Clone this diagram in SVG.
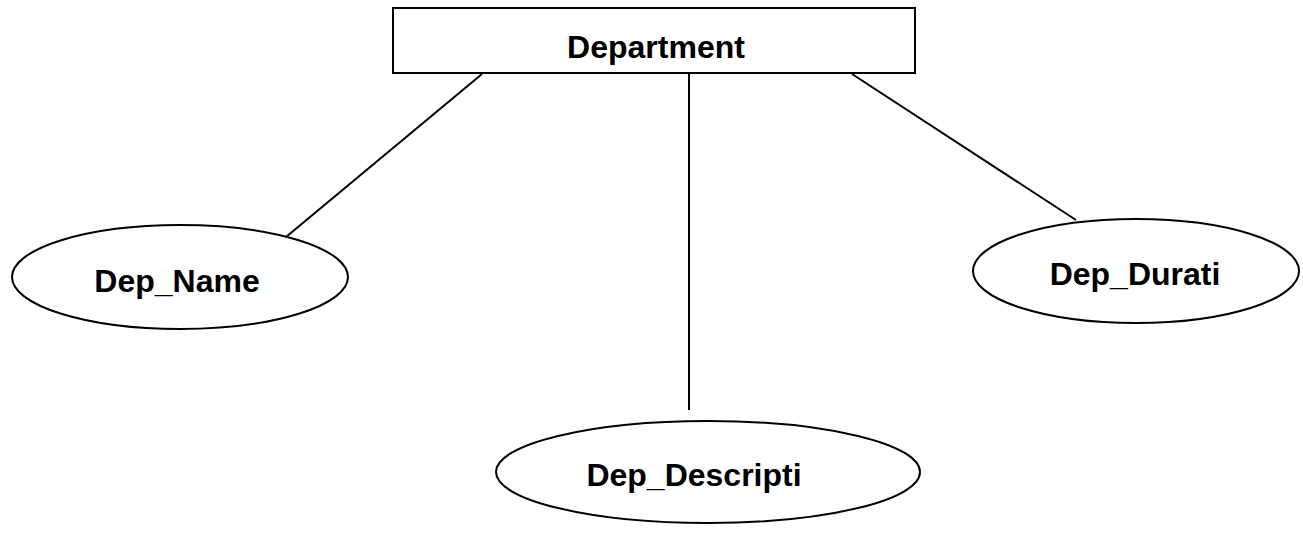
<svg xmlns="http://www.w3.org/2000/svg" width="1303" height="540" viewBox="0 0 1303 540">
<style>
.shape{fill:#fff;stroke:#000;stroke-width:2}
.lbl{font-family:"Liberation Sans",Arial,sans-serif;font-weight:bold;font-size:32px;fill:#000;text-anchor:middle}
.conn{stroke:#000;stroke-width:2;fill:none}
</style>
<rect width="1303" height="540" fill="#fff"/>
<g id="connectors">
<line class="conn" x1="482" y1="74" x2="286" y2="237"/>
<line class="conn" x1="689" y1="74" x2="689" y2="410"/>
<line class="conn" x1="852" y1="74" x2="1076" y2="220"/>
</g>
<g id="department">
<rect class="shape" x="393" y="8" width="522" height="65"/>
<text class="lbl" x="656" y="58">Department</text>
</g>
<g id="dep_name">
<ellipse class="shape" cx="180" cy="277" rx="168" ry="52"/>
<text class="lbl" x="177" y="292">Dep_Name</text>
</g>
<g id="dep_durati">
<ellipse class="shape" cx="1136" cy="271" rx="163" ry="52"/>
<text class="lbl" x="1135" y="285">Dep_Durati</text>
</g>
<g id="dep_descripti">
<ellipse class="shape" cx="708" cy="472" rx="212" ry="51"/>
<text class="lbl" x="694" y="486">Dep_Descripti</text>
</g>
</svg>
